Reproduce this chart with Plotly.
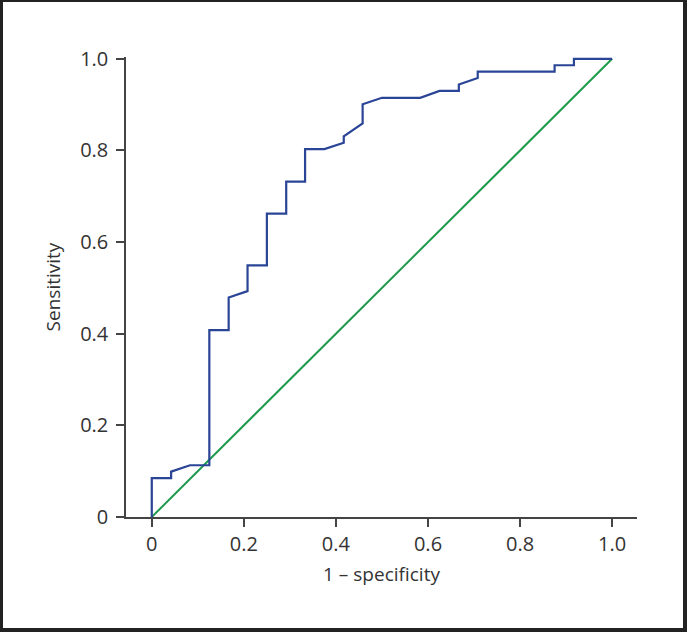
import plotly.graph_objects as go

# ROC curve points
fpr = [0, 0, 0.042, 0.042, 0.083, 0.125, 0.125, 0.167, 0.167, 0.208, 0.208,
       0.250, 0.250, 0.292, 0.292, 0.333, 0.333, 0.375, 0.417, 0.417, 0.458,
       0.458, 0.500, 0.583, 0.625, 0.667, 0.667, 0.708, 0.708, 0.875, 0.875,
       0.917, 0.917, 1.0]
tpr = [0, 0.085, 0.085, 0.099, 0.113, 0.113, 0.408, 0.408, 0.479, 0.493, 0.549,
       0.549, 0.662, 0.662, 0.732, 0.732, 0.803, 0.803, 0.817, 0.831, 0.859,
       0.901, 0.915, 0.915, 0.930, 0.930, 0.944, 0.958, 0.972, 0.972, 0.986,
       0.986, 1.0, 1.0]
ref_x = [0, 1]
ref_y = [0, 1]

x_ticks = [0, 0.2, 0.4, 0.6, 0.8, 1.0]
x_ticktext = ["0", "0.2", "0.4", "0.6", "0.8", "1.0"]
y_ticks = [0, 0.2, 0.4, 0.6, 0.8, 1.0]
y_ticktext = ["0", "0.2", "0.4", "0.6", "0.8", "1.0"]

W, H = 687, 632
L, R, T, B = 126, 50, 57, 115
PW, PH = W - L - R, H - T - B

def px(p):
    return (p - L) / PW

def py(q):
    return (H - B - q) / PH

fig = go.Figure()
fig.add_trace(go.Scatter(x=ref_x, y=ref_y, mode="lines",
                         line=dict(color="#1f9a4c", width=2), showlegend=False))
fig.add_trace(go.Scatter(x=fpr, y=tpr, mode="lines",
                         line=dict(color="#2b4596", width=2.2), showlegend=False))

tick_font = dict(family="Open Sans, Segoe UI, sans-serif", size=20, color="#333333")
title_font = dict(family="Open Sans, Segoe UI, sans-serif", size=19, color="#333333")
axis_common = dict(showgrid=False, zeroline=False, showline=True,
                   linecolor="#444444", linewidth=1.5, ticks="outside",
                   ticklen=8, tickwidth=1.5, tickcolor="#444444",
                   tickfont=tick_font, title_font=title_font)

fig.update_xaxes(range=[-0.056, 1.054], tickvals=x_ticks, ticktext=x_ticktext,
                 title_text="1 – specificity", title_standoff=12, **axis_common)
fig.update_yaxes(range=[0, 1.004], tickvals=y_ticks, ticktext=y_ticktext,
                 title_text="Sensitivity", title_standoff=14, ticklabelstandoff=4,
                 **axis_common)

border = "#222222"
shapes = [
    dict(type="rect", xref="paper", yref="paper", x0=px(0), x1=px(3), y0=py(H), y1=py(0),
         fillcolor=border, line_width=0, layer="above"),
    dict(type="rect", xref="paper", yref="paper", x0=px(0), x1=px(W), y0=py(2), y1=py(0),
         fillcolor=border, line_width=0, layer="above"),
    dict(type="rect", xref="paper", yref="paper", x0=px(683), x1=px(W), y0=py(H), y1=py(0),
         fillcolor=border, line_width=0, layer="above"),
    dict(type="rect", xref="paper", yref="paper", x0=px(0), x1=px(W), y0=py(H), y1=py(628),
         fillcolor=border, line_width=0, layer="above"),
]

fig.update_layout(width=W, height=H, margin=dict(l=L, r=R, t=T, b=B),
                  plot_bgcolor="white", paper_bgcolor="white",
                  shapes=shapes, font=title_font)

fig.write_html("out.html", config={"displayModeBar": False},
               post_script="document.body.style.margin='0';document.body.style.padding='0';")
